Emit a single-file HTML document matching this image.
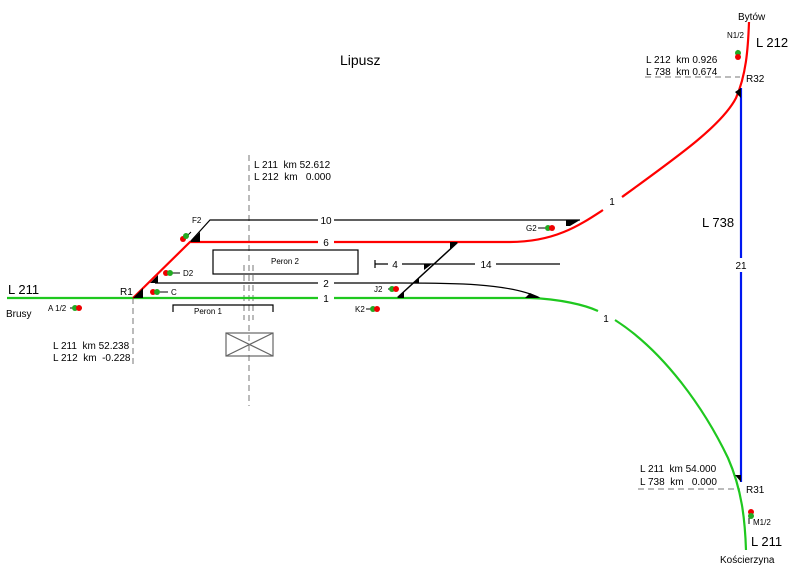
<!DOCTYPE html>
<html><head><meta charset="utf-8"><style>
html,body{margin:0;padding:0;background:#fff;width:792px;height:588px;overflow:hidden}
svg{display:block}
text{font-family:"Liberation Sans",Arial,sans-serif;fill:#000}
</style></head><body>
<svg width="792" height="588" viewBox="0 0 792 588">
<g stroke="#777" stroke-width="1" stroke-dasharray="6,4" fill="none">
<line x1="249" y1="155" x2="249" y2="406"/>
<line x1="244" y1="265" x2="244" y2="320"/>
<line x1="253" y1="265" x2="253" y2="320"/>
<line x1="133" y1="298" x2="133" y2="365"/>
<line x1="645" y1="77" x2="740" y2="77"/>
<line x1="638" y1="489" x2="740" y2="489"/>
</g>
<g stroke="#000" stroke-width="1.2" fill="none">
<path d="M190 242 L210 220 L318 220 M334 220 L580 220"/>
<path d="M155 283 L318 283 M334 283 L400 283 C450 283 510 283 540 298"/>
<path d="M375 260 L375 268 M375 264 L388 264 M402 264 L475 264 M496 264 L560 264"/>
<path d="M397 298 L458 242" stroke-width="1.5"/>
<rect x="213" y="250" width="145" height="24"/>
<path d="M173 312 L173 305 L273 305 L273 312"/>
<rect x="226" y="333" width="47" height="23" stroke="#666"/>
<path d="M226 333 L273 356 M273 333 L226 356" stroke="#666"/>
</g>
<g stroke="#1fc81f" stroke-width="2.2" fill="none">
<path d="M7 298 L318 298 M334 298 L530 298 C560 299 585 305 598 311"/>
<path d="M615 320 C665 352 705 410 728 458 C742 490 745 520 746 550"/>
</g>
<g stroke="#f00" stroke-width="2.2" fill="none">
<path d="M133 298 L190 242 L318 242 M334 242 L510 242 C555 242 580 225 603 210"/>
<path d="M622 197 C680 155 722 125 736 98 C746 75 748 50 749 22"/>
</g>
<g stroke="#0018f0" stroke-width="2.2">
<line x1="741" y1="88" x2="741" y2="258"/>
<line x1="741" y1="272" x2="741" y2="482"/>
</g>
<g fill="#000">
<polygon points="133,298 143,288 143,298"/>
<polygon points="150,283 158,275 158,283"/>
<polygon points="190,242 200,232 200,242"/>
<polygon points="566,220 580,220 570,226 566,226"/>
<polygon points="525,298 540,298 530,293"/>
<polygon points="397,298 404,292 404,298"/>
<polygon points="414,283 419,278 419,283"/>
<polygon points="424,270 432,264 424,264"/>
<polygon points="450,250 458,242 450,242"/>
<polygon points="741,88 735,92 741,98"/>
<polygon points="741,482 735,475 741,475"/>
</g>
<g stroke="#000" stroke-width="1">
<line x1="82" y1="308" x2="70" y2="308"/>
<line x1="160" y1="292" x2="168" y2="292"/>
<line x1="172" y1="273" x2="180" y2="273"/>
<line x1="185" y1="238" x2="191" y2="232"/>
<line x1="538" y1="228" x2="546" y2="228"/>
<line x1="388" y1="289" x2="396" y2="289"/>
<line x1="366" y1="309" x2="374" y2="309"/>
<line x1="738" y1="50" x2="736" y2="58"/>
<line x1="749" y1="518" x2="749" y2="524"/>
</g>
<g>
<circle cx="75" cy="308" r="3" fill="#2a2"/><circle cx="79" cy="308" r="3" fill="#e00"/>
<circle cx="153" cy="292" r="3" fill="#e00"/><circle cx="157" cy="292" r="3" fill="#2a2"/>
<circle cx="166" cy="273" r="3" fill="#e00"/><circle cx="170" cy="273" r="3" fill="#2a2"/>
<circle cx="183" cy="239" r="3" fill="#e00"/><circle cx="186" cy="236" r="3" fill="#2a2"/>
<circle cx="548" cy="228" r="3" fill="#2a2"/><circle cx="552" cy="228" r="3" fill="#e00"/>
<circle cx="392" cy="289" r="3" fill="#2a2"/><circle cx="396" cy="289" r="3" fill="#e00"/>
<circle cx="373" cy="309" r="3" fill="#2a2"/><circle cx="377" cy="309" r="3" fill="#e00"/>
<circle cx="738" cy="53" r="3" fill="#2a2"/><circle cx="738" cy="57" r="3" fill="#e00"/>
<circle cx="751" cy="512" r="3" fill="#e00"/><circle cx="751" cy="516" r="3" fill="#2a2"/>
</g>
<text x="340" y="65" font-size="14">Lipusz</text>
<text x="8" y="294" font-size="13">L 211</text>
<text x="6" y="317" font-size="10">Brusy</text>
<text x="120" y="295" font-size="10">R1</text>
<text x="48" y="311" font-size="8">A 1/2</text>
<text x="171" y="295" font-size="8">C</text>
<text x="183" y="276" font-size="8">D2</text>
<text x="192" y="223" font-size="8">F2</text>
<text x="526" y="231" font-size="8">G2</text>
<text x="374" y="292" font-size="8">J2</text>
<text x="355" y="312" font-size="8">K2</text>
<text x="326" y="224" font-size="10" text-anchor="middle">10</text>
<text x="326" y="246" font-size="10" text-anchor="middle">6</text>
<text x="326" y="287" font-size="10" text-anchor="middle">2</text>
<text x="326" y="302" font-size="10" text-anchor="middle">1</text>
<text x="395" y="268" font-size="10" text-anchor="middle">4</text>
<text x="486" y="268" font-size="10" text-anchor="middle">14</text>
<text x="612" y="205" font-size="10" text-anchor="middle">1</text>
<text x="606" y="322" font-size="10" text-anchor="middle">1</text>
<text x="741" y="269" font-size="10" text-anchor="middle">21</text>
<text x="285" y="264" font-size="8" text-anchor="middle">Peron 2</text>
<text x="208" y="314" font-size="8" text-anchor="middle">Peron 1</text>
<text x="53" y="349" font-size="10" xml:space="preserve">L 211  km 52.238</text>
<text x="53" y="361" font-size="10" xml:space="preserve">L 212  km  -0.228</text>
<text x="254" y="168" font-size="10" xml:space="preserve">L 211  km 52.612</text>
<text x="254" y="180" font-size="10" xml:space="preserve">L 212  km   0.000</text>
<text x="646" y="63" font-size="10" xml:space="preserve">L 212  km 0.926</text>
<text x="646" y="75" font-size="10" xml:space="preserve">L 738  km 0.674</text>
<text x="640" y="472" font-size="10" xml:space="preserve">L 211  km 54.000</text>
<text x="640" y="485" font-size="10" xml:space="preserve">L 738  km   0.000</text>
<text x="738" y="20" font-size="10">Bytów</text>
<text x="727" y="38" font-size="8">N1/2</text>
<text x="756" y="47" font-size="13">L 212</text>
<text x="746" y="82" font-size="10">R32</text>
<text x="702" y="227" font-size="13">L 738</text>
<text x="746" y="493" font-size="10">R31</text>
<text x="753" y="525" font-size="8">M1/2</text>
<text x="751" y="546" font-size="13">L 211</text>
<text x="720" y="563" font-size="10">Kościerzyna</text>
</svg>
</body></html>
